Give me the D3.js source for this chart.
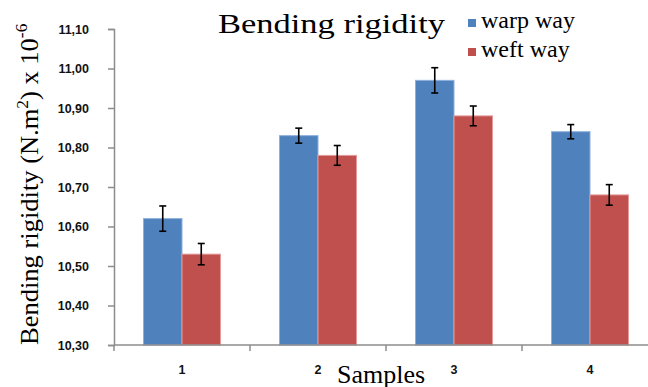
<!DOCTYPE html>
<html><head><meta charset="utf-8">
<script src="https://cdn.jsdelivr.net/npm/d3@7"></script>
<style>body{margin:0;background:#fff}svg{display:block}</style>
</head><body>
<svg id="c" width="648" height="387"></svg>
<script>
const categories = ["1","2","3","4"];
const seriesNames = ["warp way","weft way"];
const warp = [10.62, 10.83, 10.97, 10.84];
const weft = [10.53, 10.78, 10.88, 10.68];
const warpErr = [0.032, 0.019, 0.032, 0.018];
const weftErr = [0.027, 0.025, 0.025, 0.026];
const yTicks = [10.30,10.40,10.50,10.60,10.70,10.80,10.90,11.00,11.10];
const colors = ["#4F81BD","#C0504D"];
const strokes = ["#8DB0DC","#E39A98"];

const svg = d3.select("#c");
const y = d3.scaleLinear().domain([10.3, 11.1]).range([345, 29]);
const x = d3.scaleBand().domain(categories).range([114, 658]).padding(0);
const xs = d3.scaleBand().domain(seriesNames).range([0, x.bandwidth()]).paddingInner(0).paddingOuter(0.766);
const serif = "'Liberation Serif','Times New Roman',serif";
const sans = "'Liberation Sans',Arial,sans-serif";
const axisCol = "#8C8C8C";

// y axis
const ya = svg.append("g").attr("transform","translate(114,0)")
  .call(d3.axisLeft(y).tickValues(yTicks).tickSize(6).tickPadding(19)
    .tickFormat(d => d3.format(".2f")(d).replace(".", ",")));
ya.select(".domain").attr("stroke", axisCol).attr("stroke-width",1.5);
ya.selectAll(".tick line").attr("stroke", axisCol).attr("stroke-width",1.5);
ya.selectAll(".tick text").attr("font-family", sans).attr("font-weight","bold")
  .attr("font-size", 12.5).attr("fill","#111");

// bars
const data = [warp, weft];
const errs = [warpErr, weftErr];
seriesNames.forEach((s, si) => {
  const g = svg.append("g");
  g.selectAll("rect").data(categories).join("rect")
    .attr("x", (c) => x(c) + xs(s))
    .attr("width", xs.bandwidth())
    .attr("y", (c, i) => y(data[si][i]))
    .attr("height", (c, i) => y(10.3) - y(data[si][i]))
    .attr("fill", colors[si]).attr("stroke", strokes[si]).attr("stroke-width", 1);
});

// x axis
const xa = svg.append("g").attr("transform","translate(0,345)");
xa.append("line").attr("x1",114).attr("x2",648).attr("y1",0).attr("y2",0)
  .attr("stroke", axisCol).attr("stroke-width",1.5);
xa.selectAll("line.tk").data(categories.concat(["end"])).join("line").attr("class","tk")
  .attr("x1",(c,i)=>114 + i*x.step()).attr("x2",(c,i)=>114 + i*x.step())
  .attr("y1",0).attr("y2",6).attr("stroke", axisCol).attr("stroke-width",1.5);
xa.selectAll("text").data(categories).join("text")
  .attr("x", c => x(c) + x.bandwidth()/2).attr("y", 29)
  .attr("text-anchor","middle").attr("font-family", sans).attr("font-weight","bold")
  .attr("font-size",12.5).attr("fill","#111").text(c => c);

// error bars
seriesNames.forEach((s, si) => {
  const g = svg.append("g").attr("stroke","#000").attr("stroke-width",1.6);
  categories.forEach((c, i) => {
    const cx = x(c) + xs(s) + xs.bandwidth()/2;
    const v = data[si][i], e = errs[si][i];
    g.append("line").attr("x1",cx).attr("x2",cx).attr("y1",y(v+e)).attr("y2",y(v-e));
    g.append("line").attr("x1",cx-3.5).attr("x2",cx+3.5).attr("y1",y(v+e)).attr("y2",y(v+e));
    g.append("line").attr("x1",cx-3.5).attr("x2",cx+3.5).attr("y1",y(v-e)).attr("y2",y(v-e));
  });
});

// title
svg.append("text").attr("x",218).attr("y",33)
  .attr("textLength",227).attr("lengthAdjust","spacingAndGlyphs")
  .attr("font-family", serif).attr("font-size",28).attr("fill","#000").text("Bending rigidity");

// legend
seriesNames.forEach((s, si) => {
  svg.append("rect").attr("x",468).attr("y",19 + si*29).attr("width",8).attr("height",8).attr("fill",colors[si]);
  svg.append("text").attr("x",481).attr("y",28 + si*29).attr("font-family", serif)
    .attr("font-size",24).attr("fill","#000").text(s);
});

// y title
const yt = svg.append("text").attr("transform","translate(38,345) rotate(-90) scale(1.02,1)")
  .attr("font-family", serif).attr("font-size",26).attr("fill","#000");
yt.append("tspan").text("Bending rigidity (N.m");
yt.append("tspan").attr("font-size",17).attr("dy",-10).text("2");
yt.append("tspan").attr("dy",10).text(") x 10");
yt.append("tspan").attr("font-size",17).attr("dy",-11).text("-6");

// x title
svg.append("text").attr("x",381).attr("y",383).attr("text-anchor","middle")
  .attr("font-family", serif).attr("font-size",26).attr("fill","#000").text("Samples");
</script>
</body></html>
